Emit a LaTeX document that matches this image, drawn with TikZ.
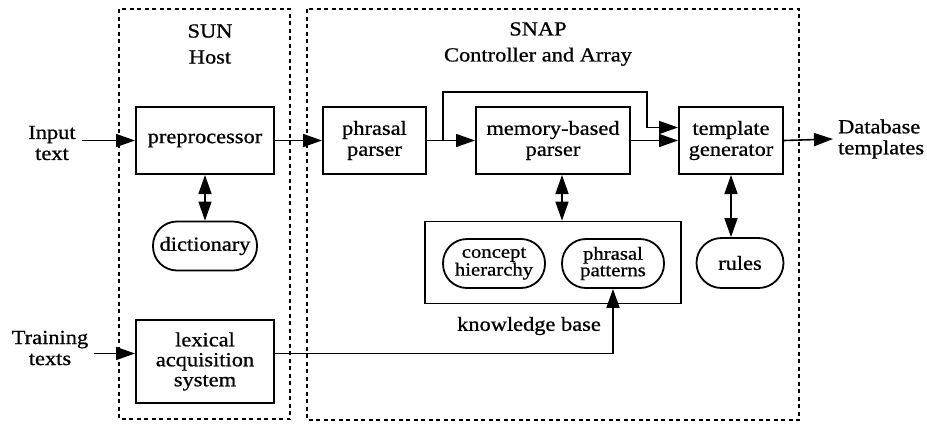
\documentclass[tikz,border=0pt]{standalone}
\usepackage{fontspec}
\setmainfont{Liberation Serif}[FakeStretch=1.12,FakeBold=0.8]
\usetikzlibrary{arrows.meta}

\tikzset{
  lbl/.style={font=\fontsize{20}{21}\selectfont, align=center, inner sep=0pt},
  block/.style={lbl, draw, line width=2pt, minimum width=#1, minimum height=67pt},
  pill/.style={lbl, draw, line width=1.8pt, rounded corners=24pt, minimum height=49pt},
  frame/.style={draw, line width=1.6pt, dash pattern=on 4pt off 3.5pt},
  arr/.style={line width=1.6pt, -{Triangle[length=19pt,width=13pt]}},
  dbl/.style={line width=1.6pt, {Triangle[length=19pt,width=13pt]}-{Triangle[length=19pt,width=13pt]}},
}

\begin{document}
\begin{tikzpicture}[x=1pt, y=-1pt]
  \useasboundingbox (0,0) rectangle (927,424);

  % processor frames
  \draw[frame] (119,9) rectangle (290,419);
  \draw[frame] (307,9) rectangle (799,420);
  \node[lbl, font=\fontsize{20}{26}\selectfont] (sun) at (210,44) {SUN\\Host};
  \node[lbl, font=\fontsize{20}{26}\selectfont] (snap) at (538,44) {SNAP\\Controller and Array};

  % host side
  \node[block=138pt] (pre) at (205,140.5) {preprocessor};
  \node[pill, minimum width=104pt] (dict) at (205,246) {dictionary};
  \node[block=138pt, minimum height=83pt] (lex) at (205,361.5) {lexical\\[-1pt]acquisition\\[-1pt]system};

  % array side
  \node[block=103pt] (pp) at (374.5,140.5) {phrasal\\parser};
  \node[block=154pt] (mem) at (553,140.5) {memory-based\\parser};
  \node[block=104pt] (tg) at (731,140.5) {template\\generator};

  \node[draw, line width=1.8pt, minimum width=256pt, minimum height=82pt, inner sep=0pt] (kb) at (553,262.5) {};
  \node[pill, minimum width=102pt, font=\fontsize{18.5}{16.5}\selectfont] (con) at (494,263.5) {concept\\hierarchy};
  \node[pill, minimum width=102pt, font=\fontsize{18.5}{16.5}\selectfont] (pat) at (613,263.5) {phrasal\\patterns};
  \node[lbl] (kbl) at (529,326) {knowledge base};
  \node[pill, minimum width=87pt, minimum height=50pt, rounded corners=25pt] (rules) at (740,263) {rules};

  % external inputs and output
  \node[lbl, inner sep=6pt] (inp) at (52,143) {Input\\text};
  \node[lbl, inner sep=6pt] (train) at (50,348) {Training\\texts};
  \node[lbl, anchor=west, inner sep=5pt, align=left] (db) at (833,139) {Database\\templates};

  % data flow
  \draw[arr] (inp.east |- pre.west) -- (pre.west);
  \draw[arr] (pre.east) -- (pp.west);
  \draw[arr] (pp.east) -- (mem.west);
  \coordinate (br) at (443,140.5);
  \coordinate (tp) at (647,92);
  \draw[arr] (br) |- (tp) |- ([yshift=13pt]tg.west);
  \draw[arr] (mem.east) -- (tg.west);
  \draw[arr] (tg.east) -- (db.west);

  \draw[dbl] (pre.south) -- (dict.north);
  \coordinate (mk) at (562,0);
  \draw[dbl] (mem.south -| mk) -- (kb.north -| mk);
  \draw[dbl] (tg.south) -- (tg.south |- rules.north);

  \coordinate (lexin) at ([yshift=8pt]lex.west);
  \draw[arr] (train.east |- lexin) -- (lexin);
  \draw[arr] ([yshift=8pt]lex.east) -| (pat.south);
\end{tikzpicture}
\end{document}
